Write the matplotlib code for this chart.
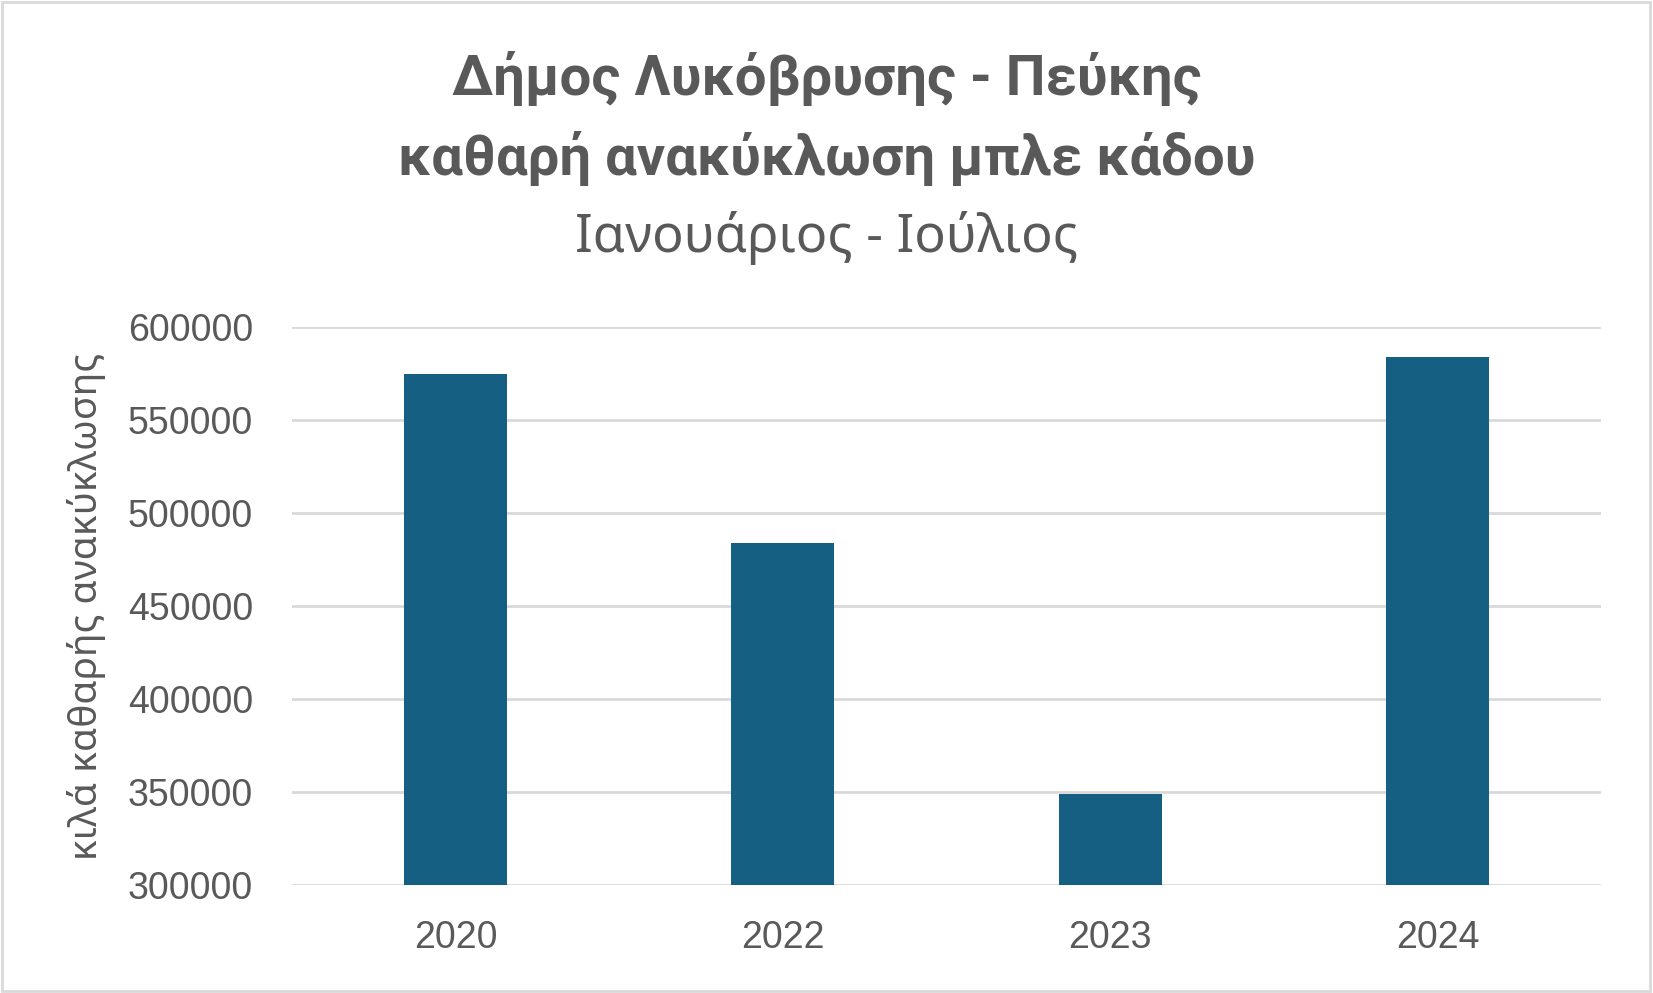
import numpy as np
import matplotlib.pyplot as plt
from matplotlib.patches import Rectangle

# net recycling (kg) of the blue bin, January - July
years = ['2020', '2022', '2023', '2024']
kilos = [575000, 484000, 349000, 584000]
y_ticks = [300000, 350000, 400000, 450000, 500000, 550000, 600000]

text_col = '#595959'
bar_col = '#156082'
grid_col = '#D9D9D9'

fig = plt.figure(figsize=(16.53, 9.93), dpi=100)
ax = fig.add_axes([0.1766, 0.1085, 0.792, 0.562])

x_pos = np.arange(len(years))
ax.bar(x_pos, kilos, width=0.315, color=bar_col, zorder=3)

ax.set_xlim(-0.5, len(years) - 0.5)
ax.set_ylim(300000, 600000)
ax.set_yticks(y_ticks)
ax.set_yticklabels([str(v) for v in y_ticks])
ax.set_xticks(x_pos)
ax.set_xticklabels(years)
ax.grid(axis='y', color=grid_col, linewidth=2, zorder=0)
for s in ax.spines.values():
    s.set_visible(False)
ax.tick_params(axis='y', length=0, pad=28, labelsize=27, labelcolor=text_col)
ax.tick_params(axis='x', length=0, pad=25, labelsize=27, labelcolor=text_col)
for lab in ax.get_xticklabels() + ax.get_yticklabels():
    lab.set_family('Liberation Sans')

ax.set_ylabel('κιλά καθαρής ανακύκλωσης', fontsize=28, color=text_col,
              family='Noto Sans')
ax.yaxis.set_label_coords(-0.142, 0.5)

fig.text(0.5, 1 - 95 / 993, 'Δήμος Λυκόβρυσης - Πεύκης', ha='center', va='baseline',
         fontsize=40.5, fontweight='bold', color=text_col, family='Roboto')
fig.text(0.5, 1 - 175 / 993, 'καθαρή ανακύκλωση μπλε κάδου', ha='center', va='baseline',
         fontsize=40.5, fontweight='bold', color=text_col, family='Roboto')
fig.text(0.5, 1 - 252 / 993, 'Ιανουάριος - Ιούλιος', ha='center', va='baseline',
         fontsize=37.5, color=text_col, family='Noto Sans')

# light frame round the chart
fig.patches.append(Rectangle((0.001, 0.002), 0.997, 0.996, transform=fig.transFigure,
                             fill=False, edgecolor=grid_col, linewidth=2))

fig.savefig('out.png', dpi=100)
